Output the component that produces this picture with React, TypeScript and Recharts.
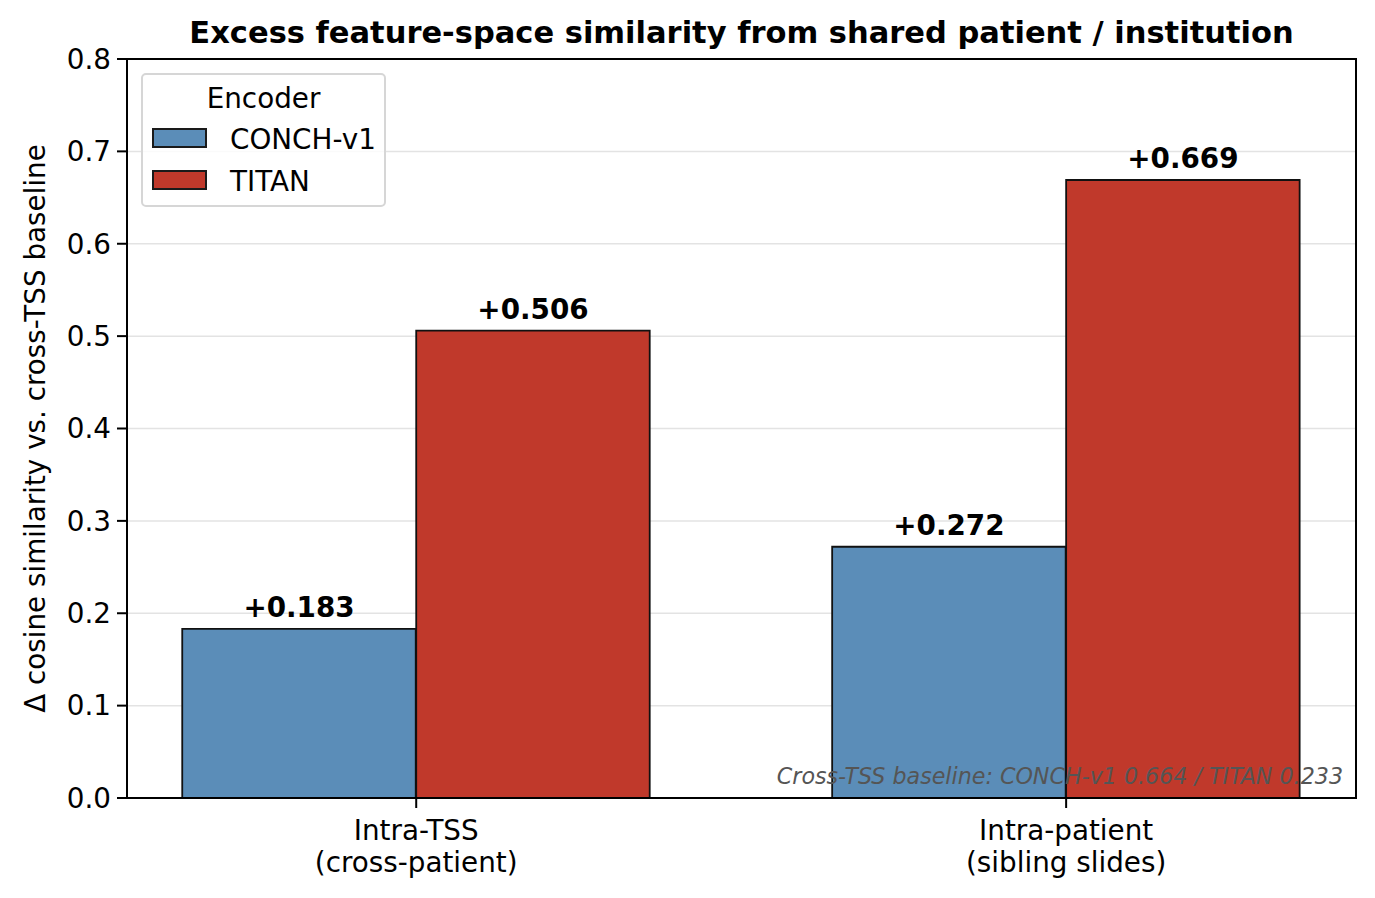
import { BarChart, Bar, XAxis, YAxis, CartesianGrid, Cell, LabelList, Legend, ReferenceArea } from 'recharts'

// valeurs
const categories = ['Intra-TSS\n(cross-patient)', 'Intra-patient\n(sibling slides)']
const encoders = ['CONCH-v1', 'TITAN']
const conchValues = [0.183, 0.272]
const titanValues = [0.506, 0.669]
const yTicks = [0, 0.1, 0.2, 0.3, 0.4, 0.5, 0.6, 0.7, 0.8]
const baselineNote = 'Cross-TSS baseline: CONCH-v1 0.664 / TITAN 0.233'

const COLORS = ['#5b8db8', '#c0392b']
const FONT = '"DejaVu Sans", sans-serif'
const BAR_W = 0.36 // en unités de l'axe x
const X_DOMAIN: [number, number] = [-0.445, 1.446]
const Y_DOMAIN: [number, number] = [0, 0.8]

const rows = categories.flatMap((c, i) => [
  { x: i - BAR_W / 2, value: conchValues[i], enc: 0 },
  { x: i + BAR_W / 2, value: titanValues[i], enc: 1 },
])

const XTick = ({ x, y, payload }: any) => {
  const lines = categories[payload.value]?.split('\n') || []
  return (
    <text x={x} y={y} textAnchor="middle" fontSize={27.8} fontFamily={FONT} fill="#000">
      {lines.map((l, i) => (
        <tspan key={i} x={x} dy={i === 0 ? 30 : 32}>{l}</tspan>
      ))}
    </text>
  )
}

const YLabel = ({ viewBox }: any) => {
  const cx = 35
  const cy = viewBox.y + viewBox.height / 2
  return (
    <text x={cx} y={cy} transform={`rotate(-90 ${cx} ${cy})`} textAnchor="middle"
      dominantBaseline="central" fontSize={27.8} fontFamily={FONT} fill="#000">
      Δ cosine similarity vs. cross-TSS baseline
    </text>
  )
}

const LegendBox = () => (
  <div style={{
    position: 'relative', width: 245, height: 134, boxSizing: 'border-box',
    border: '2px solid #d6d6d6', borderRadius: 5, background: 'rgba(255,255,255,0.8)',
    fontFamily: FONT, fontSize: 27.8, color: '#000',
  }}>
    <div style={{ position: 'absolute', left: 0, right: 0, top: 8, textAlign: 'center', lineHeight: '32px' }}>Encoder</div>
    {encoders.map((name, i) => (
      <div key={name}>
        <div style={{
          position: 'absolute', left: 9, top: 53 + i * 42, width: 55, height: 20, boxSizing: 'border-box',
          background: COLORS[i], border: '2px solid #1a1a1a',
        }} />
        <div style={{ position: 'absolute', left: 87, top: 49 + i * 42, lineHeight: '32px' }}>{name}</div>
      </div>
    ))}
  </div>
)

export default function App() {
  return (
    <div style={{ position: 'absolute', left: 0, top: 0, width: 1375, height: 898, background: '#fff' }}>
      <div style={{
        position: 'absolute', left: 127, width: 1229, top: 14, textAlign: 'center',
        fontFamily: FONT, fontWeight: 'bold', fontSize: 30.5, lineHeight: '38px',
      }}>
        Excess feature-space similarity from shared patient / institution
      </div>
      <BarChart width={1375} height={898} data={rows} barGap={0} barCategoryGap="0%"
        margin={{ top: 59, right: 19, bottom: 0, left: 0 }}>
        <CartesianGrid horizontal vertical={false} stroke="#e3e3e3" strokeWidth={1.5} />
        <XAxis
          dataKey="x" type="number" domain={X_DOMAIN} allowDataOverflow
          ticks={[0, 1]} tick={<XTick />} height={100} tickSize={10} tickMargin={2}
          axisLine={{ stroke: '#000', strokeWidth: 2 }} tickLine={{ stroke: '#000', strokeWidth: 2 }}
          interval={0}
        />
        <YAxis
          type="number" domain={Y_DOMAIN} ticks={yTicks} width={127} tickSize={10} tickMargin={6}
          tickFormatter={(v: number) => v.toFixed(1)}
          tick={{ fontSize: 27.8, fontFamily: FONT, fill: '#000' }}
          axisLine={{ stroke: '#000', strokeWidth: 2 }} tickLine={{ stroke: '#000', strokeWidth: 2 }}
          label={<YLabel />}
        />
        <Legend
          verticalAlign="middle" layout="horizontal"
          wrapperStyle={{ left: 141, top: 73, width: 245, height: 134 }}
          content={() => <LegendBox />}
        />
        {/* barSize juste sous la largeur de bande, sinon Recharts réduit à 90 % */}
        <Bar dataKey="value" barSize={233.5} stroke="#111" strokeWidth={1.8} isAnimationActive={false}>
          {rows.map((r, i) => (
            <Cell key={i} fill={COLORS[r.enc]} />
          ))}
          <LabelList
            dataKey="value" position="top" offset={12}
            formatter={(v: any) => `+${Number(v).toFixed(3)}`}
            style={{ fontSize: 27.8, fontFamily: FONT, fontWeight: 'bold', fill: '#000' }}
          />
        </Bar>
        {/* cadre du graphique */}
        <ReferenceArea x1={X_DOMAIN[0]} x2={X_DOMAIN[1]} y1={Y_DOMAIN[0]} y2={Y_DOMAIN[1]}
          fill="none" fillOpacity={0} stroke="#000" strokeWidth={2} strokeOpacity={1} />
      </BarChart>
      <div style={{
        position: 'absolute', right: 1375 - 1343, top: 762, fontFamily: FONT, fontStyle: 'italic',
        fontSize: 22.2, color: '#555', lineHeight: '28px', whiteSpace: 'nowrap',
      }}>
        {baselineNote}
      </div>
    </div>
  )
}
